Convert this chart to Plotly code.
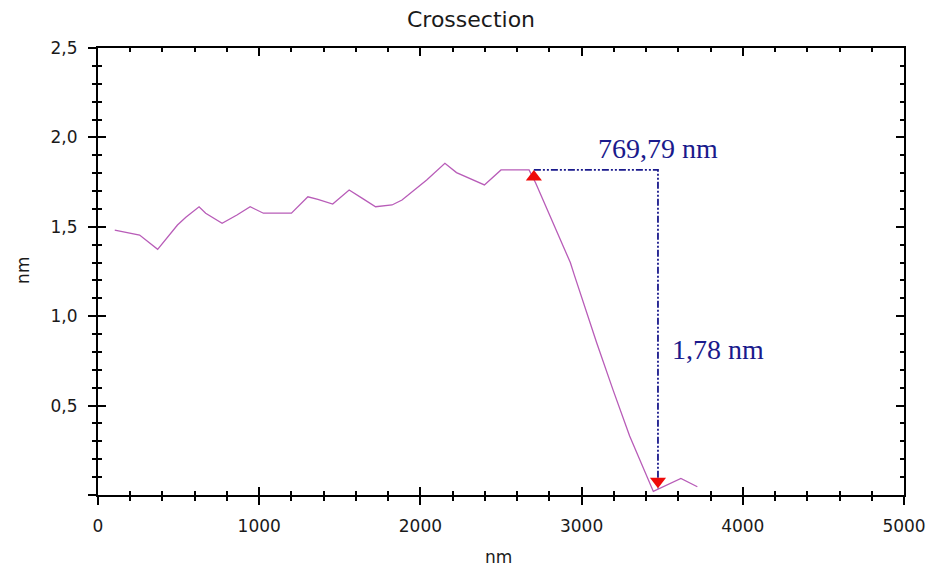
import plotly.graph_objects as go

# Height profile along the scan line
profile_x_nm = [104, 217, 258, 370, 493, 545, 627, 668, 770, 862, 944, 1026, 1200,
                1302, 1364, 1456, 1558, 1640, 1722, 1824, 1886, 2039, 2152, 2224,
                2285, 2397, 2500, 2674, 2715, 2930, 2955, 3094, 3196, 3298, 3445,
                3616, 3718]
profile_z_nm = [1.482, 1.464, 1.454, 1.374, 1.510, 1.553, 1.612, 1.576, 1.520, 1.566,
                1.612, 1.576, 1.576, 1.668, 1.654, 1.627, 1.706, 1.659, 1.612, 1.622,
                1.650, 1.762, 1.855, 1.803, 1.780, 1.734, 1.818, 1.818, 1.745, 1.300,
                1.230, 0.850, 0.585, 0.330, 0.020, 0.093, 0.046]

# Measurement cursors
cursor_a = (2704.0, 1.818)
cursor_dx = 769.79
cursor_dz = 1.78
cursor_b = (cursor_a[0] + cursor_dx, cursor_a[1] - cursor_dz)

dx_label = "769,79 nm"
dz_label = "1,78 nm"

x_tick_vals = [0, 1000, 2000, 3000, 4000, 5000]
x_tick_text = ["0", "1000", "2000", "3000", "4000", "5000"]
y_tick_vals = [0.0, 0.5, 1.0, 1.5, 2.0, 2.5]
y_tick_text = ["", "0,5", "1,0", "1,5", "2,0", "2,5"]

LINE_CLR = "#b85cb8"
CURSOR_CLR = "#1a1a8c"
MARK_CLR = "#ee0a0a"
AX_FONT = dict(family="DejaVu Sans", size=17, color="#1a1a1a")

fig = go.Figure()

fig.add_trace(go.Scatter(
    x=profile_x_nm, y=profile_z_nm, mode="lines",
    line=dict(color=LINE_CLR, width=1.3), hoverinfo="skip", showlegend=False))

# dash-dot-dot cursor guides: horizontal span then vertical drop
fig.add_trace(go.Scatter(
    x=[cursor_a[0], cursor_b[0], cursor_b[0]],
    y=[cursor_a[1], cursor_a[1], cursor_b[1]],
    mode="lines",
    line=dict(color=CURSOR_CLR, width=1.8, dash="7px,2px,2px,2px,2px,2px"),
    hoverinfo="skip", showlegend=False))

# cursor markers, set back from the measured points so their tips touch them
fig.add_trace(go.Scatter(
    x=[cursor_a[0]], y=[cursor_a[1]], mode="markers",
    marker=dict(symbol="triangle-up", size=14, color=MARK_CLR, standoff=7, angle=0),
    hoverinfo="skip", showlegend=False))
fig.add_trace(go.Scatter(
    x=[cursor_b[0]], y=[cursor_b[1]], mode="markers",
    marker=dict(symbol="triangle-up", size=14, color=MARK_CLR, standoff=7, angle=180),
    hoverinfo="skip", showlegend=False))

fig.add_annotation(x=cursor_b[0], y=cursor_a[1], text=dx_label, showarrow=False,
                   xanchor="center", yanchor="middle", yshift=21,
                   font=dict(family="Liberation Serif", size=28, color=CURSOR_CLR))
fig.add_annotation(x=cursor_b[0], y=(cursor_a[1] + cursor_b[1]) / 2, text=dz_label,
                   showarrow=False, xanchor="left", yanchor="middle",
                   xshift=12, yshift=-20,
                   font=dict(family="Liberation Serif", size=28, color=CURSOR_CLR))

# axis titles
fig.add_annotation(xref="paper", yref="paper", x=0.4975, y=-0.139, text="nm",
                   showarrow=False, xanchor="center", yanchor="middle", font=AX_FONT)
fig.add_annotation(xref="paper", yref="paper", x=-0.0934, y=0.503, text="nm",
                   textangle=-90, showarrow=False, xanchor="center", yanchor="middle",
                   font=AX_FONT)

common_x = dict(range=[0, 5000], showgrid=False, zeroline=False,
                showline=True, linecolor="black", linewidth=2,
                tickcolor="black", tickwidth=2, ticklen=8)
common_y = dict(range=[0, 2.5], showgrid=False, zeroline=False,
                showline=True, linecolor="black", linewidth=2,
                tickcolor="black", tickwidth=2, ticklen=8)

fig.update_layout(
    width=938, height=569,
    margin=dict(l=98, r=26, t=48, b=74),
    paper_bgcolor="white", plot_bgcolor="white",
    title=dict(text="Crossection", x=471 / 938, xanchor="center",
               y=1 - 19 / 569, yanchor="middle",
               font=dict(family="DejaVu Sans", size=22, color="#1a1a1a")),
    xaxis=dict(**common_x, ticks="outside", mirror=True,
               tickvals=x_tick_vals, ticktext=x_tick_text,
               tickfont=AX_FONT, ticklabelstandoff=7,
               minor=dict(ticks="outside", dtick=200, ticklen=4,
                          tickcolor="black", tickwidth=2)),
    xaxis2=dict(**common_x, overlaying="x", side="bottom", ticks="inside",
                mirror="ticks", showticklabels=False, tickvals=x_tick_vals,
                minor=dict(ticks="inside", dtick=200, ticklen=4,
                           tickcolor="black", tickwidth=2)),
    yaxis=dict(**common_y, ticks="outside", mirror=True,
               tickvals=y_tick_vals, ticktext=y_tick_text,
               tickfont=AX_FONT, ticklabelstandoff=7,
               minor=dict(ticks="outside", dtick=0.1, ticklen=4,
                          tickcolor="black", tickwidth=2)),
    yaxis2=dict(**common_y, overlaying="y", side="left", ticks="inside",
                mirror="ticks", showticklabels=False, tickvals=y_tick_vals,
                minor=dict(ticks="inside", dtick=0.1, ticklen=4,
                           tickcolor="black", tickwidth=2)),
)

# empty trace so the inside-tick axes get drawn
fig.add_trace(go.Scatter(x=[None], y=[None], xaxis="x2", yaxis="y2",
                         showlegend=False, hoverinfo="skip"))

fig.write_html("out.html")
